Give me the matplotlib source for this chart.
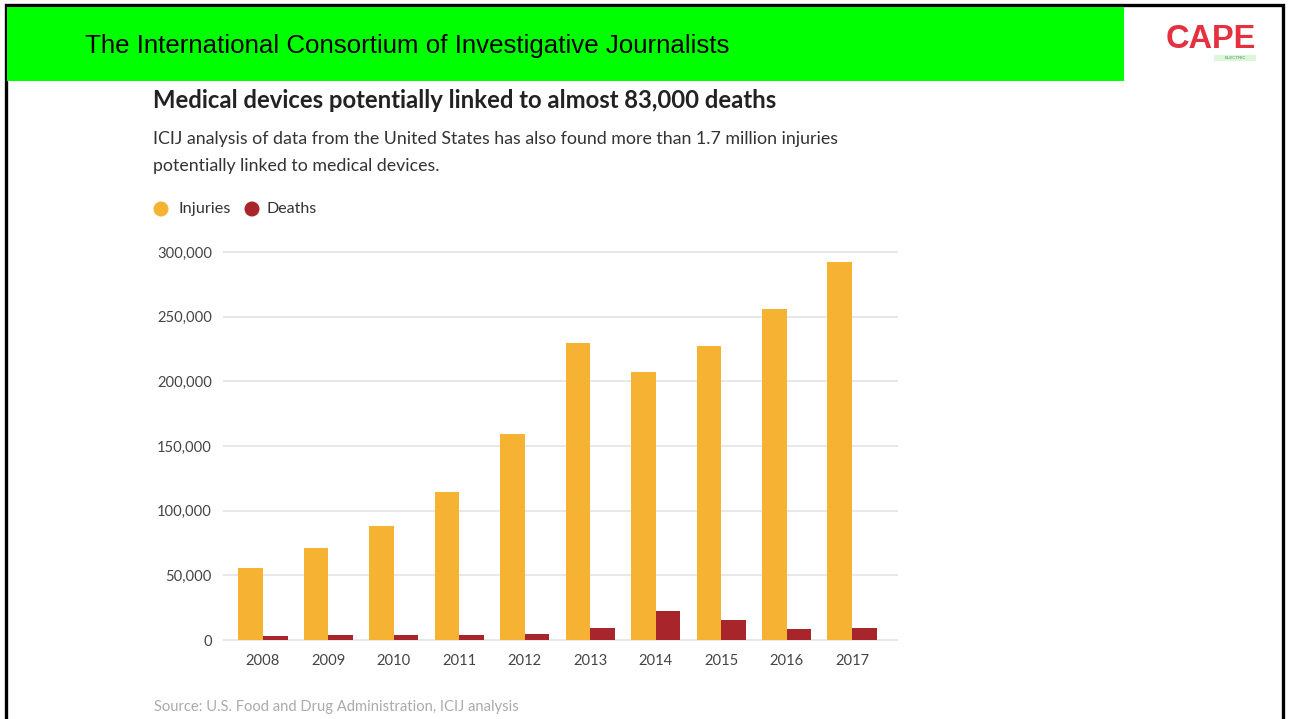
import matplotlib
matplotlib.use("Agg")
import matplotlib.pyplot as plt
from matplotlib.patches import Rectangle, Ellipse
from matplotlib.ticker import FuncFormatter

# ---------------- data ----------------
years = ["2008", "2009", "2010", "2011", "2012", "2013", "2014", "2015", "2016", "2017"]
injuries = [55500, 71000, 88000, 114500, 159000, 229500, 207500, 227500, 256000, 292500]
deaths = [3300, 3500, 3600, 3900, 4900, 9500, 22400, 15500, 8200, 9300]
yticks = [0, 50000, 100000, 150000, 200000, 250000, 300000]

header = "The International Consortium of Investigative Journalists"
title = "Medical devices potentially linked to almost 83,000 deaths"
subtitle1 = "ICIJ analysis of data from the United States has also found more than 1.7 million injuries"
subtitle2 = "potentially linked to medical devices."
source = "Source: U.S. Food and Drug Administration, ICIJ analysis"
legend_labels = ["Injuries", "Deaths"]

ORANGE = "#F6B232"
RED = "#A8262B"

W, H = 1289, 719
fig = plt.figure(figsize=(W / 100, H / 100), dpi=100)
fig.patch.set_facecolor("white")


def fx(px):
    return px / W


def fy(py):
    return 1 - py / H


# page frame and header band
fig.add_artist(Rectangle((fx(5.5), fy(725)), fx(1283 - 5.5), (725 - 5.5) / H,
                         transform=fig.transFigure, facecolor="none",
                         edgecolor="black", lw=2.4, zorder=1))
fig.add_artist(Rectangle((fx(7), fy(81)), fx(1124 - 7), (81 - 7) / H,
                         transform=fig.transFigure, facecolor="#00FF00",
                         edgecolor="none", zorder=2))
fig.text(fx(85), fy(46), header, family="Liberation Sans", fontsize=18.6,
         color="black", va="center", ha="left", zorder=3)

# logo
fig.text(fx(1211), fy(39), "CAPE", family="Liberation Sans", fontweight="bold",
         fontsize=23.5, color="#E53040", va="center", ha="center", zorder=3)
fig.add_artist(Rectangle((fx(1214), fy(61)), fx(42), 6 / H,
                         transform=fig.transFigure, facecolor="#DDF5DD",
                         edgecolor="none", zorder=2))
fig.text(fx(1235), fy(58), "ELECTRIC", family="Liberation Sans", fontsize=3.2,
         color="#3A9A3A", va="center", ha="center", zorder=3)

# titles
fig.text(fx(153), fy(101), title, family="Lato", fontweight="bold",
         fontsize=17.2, color="#222222", va="center", ha="left")
fig.text(fx(153), fy(139), subtitle1, family="Lato", fontsize=12.8,
         color="#333333", va="center", ha="left")
fig.text(fx(153), fy(166), subtitle2, family="Lato", fontsize=12.8,
         color="#333333", va="center", ha="left")

# legend
for cx, col in [(161, ORANGE), (252, RED)]:
    fig.add_artist(Ellipse((fx(cx), fy(209)), 15 / W, 15 / H, transform=fig.transFigure,
                           facecolor=col, edgecolor="none"))
fig.text(fx(178), fy(209), legend_labels[0], family="Lato", fontsize=11.7,
         color="#333333", va="center", ha="left")
fig.text(fx(267), fy(209), legend_labels[1], family="Lato", fontsize=11.5,
         color="#333333", va="center", ha="left")

# axes
ypad = 3000
ppu = 388 / 300000
bot_px = 640 + ypad * ppu
top_px = 252 - ypad * ppu
ax = fig.add_axes([fx(223), (H - bot_px) / H, fx(898 - 223), (bot_px - top_px) / H])
ax.set_facecolor("none")
x = list(range(len(years)))
bw = 0.375
ax.bar([i - bw for i in x], injuries, width=bw, align="edge", color=ORANGE, zorder=3)
ax.bar(x, deaths, width=bw, align="edge", color=RED, zorder=3)
ax.set_xlim(-40 / 65.44, (898 - 263) / 65.44)
ax.set_ylim(-ypad, 300000 + ypad)
ax.set_yticks(yticks)
ax.yaxis.set_major_formatter(FuncFormatter(lambda v, p: f"{int(v):,}"))
ax.set_xticks(x)
ax.set_xticklabels(years)
ax.grid(axis="y", color="#E4E4E4", lw=1.2, zorder=0)
for s in ax.spines.values():
    s.set_visible(False)
ax.tick_params(axis="both", length=0, labelsize=10.6, labelcolor="#444444")
ax.tick_params(axis="y", pad=8)
ax.tick_params(axis="x", pad=7)
for t in ax.get_xticklabels() + ax.get_yticklabels():
    t.set_family("Lato")

fig.text(fx(154), fy(707), source, family="Lato", fontsize=10.6,
         color="#AAAAAA", va="center", ha="left")

fig.savefig("out.png", dpi=100)
